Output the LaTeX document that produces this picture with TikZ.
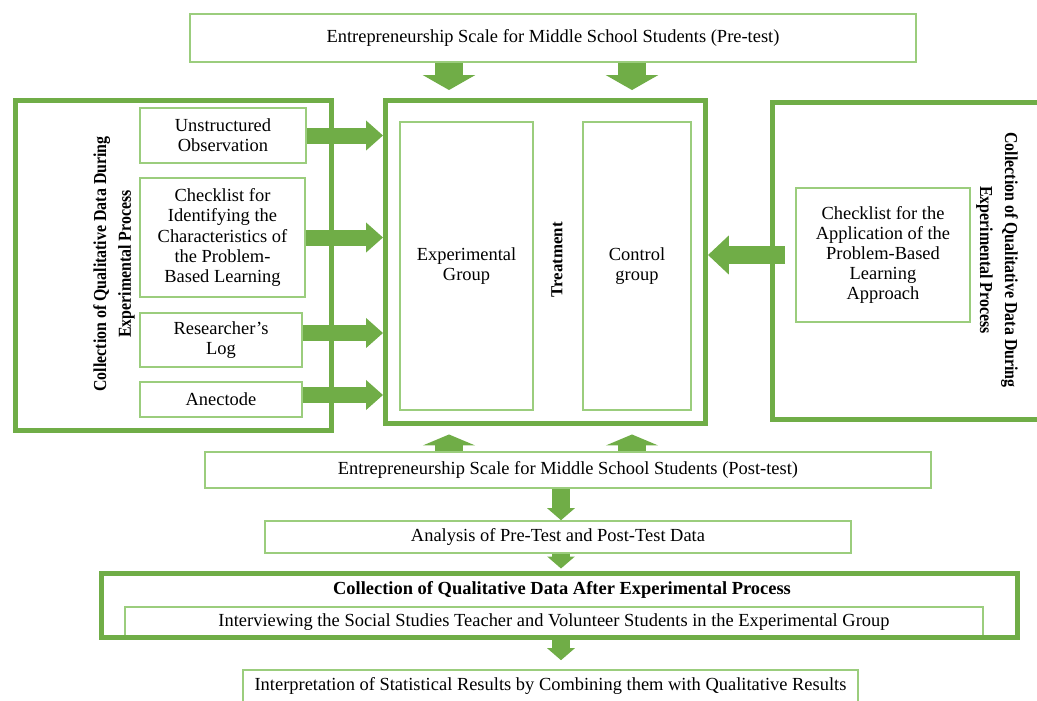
\documentclass[tikz,border=0pt]{standalone}
\usepackage{fontspec}
\setmainfont{Liberation Serif}
\newfontfamily\sidefont[FakeStretch=0.87]{Liberation Serif}
\usepackage{tikz}
\usetikzlibrary{arrows.meta}

\definecolor{framegreen}{RGB}{112,173,71}
\definecolor{boxgreen}{RGB}{155,205,125}

\begin{document}
\begin{tikzpicture}[x=0.02cm, y=-0.02cm,
	every node/.style={font=\fontsize{10.5}{11.4}\selectfont, align=center, inner sep=0pt},
	thinbox/.style={draw=boxgreen, line width=0.9pt, fill=white},
	thickbox/.style={draw=framegreen, line width=0.1cm},
	sidelabel/.style={font=\sidefont\bfseries\fontsize{10.4}{14.2}\selectfont},
	bigarrow/.style={draw=framegreen, line width=0.56cm, -{Triangle[length=0.3cm, width=1.04cm]}},
	uparrow/.style={draw=framegreen, line width=0.56cm, -{Triangle[length=0.22cm, width=1.04cm]}},
	sidearrow/.style={draw=framegreen, line width=0.32cm, -{Triangle[length=0.34cm, width=0.58cm]}},
	backarrow/.style={draw=framegreen, line width=0.36cm, -{Triangle[length=0.42cm, width=0.76cm]}},
	midarrow/.style={draw=framegreen, line width=0.36cm, -{Triangle[length=0.24cm, width=0.54cm]}}]
	\useasboundingbox (0,0) rectangle (1037,700);
	\clip (0,0) rectangle (1037,700);
	% pre-test and the treatment block
	\node[thinbox, minimum width=14.52cm, minimum height=0.96cm] (pre) at (553,38) {Entrepreneurship Scale for Middle School Students (Pre-test)};
	\node[thickbox, minimum width=6.4cm, minimum height=6.47cm] (treat) at (545.5,262.25) {};
	\node[thinbox, minimum width=2.66cm, minimum height=5.76cm] (expg) at (466.5,266) {Experimental\\Group};
	\node[thinbox, minimum width=2.16cm, minimum height=5.76cm] (ctrl) at (637,266) {Control\\group};
	\node[rotate=90, font=\bfseries\fontsize{9.6}{11.4}\selectfont] (treatlbl) at (557,260) {Treatment};
	% qualitative data during the process, left
	\node[thickbox, minimum width=6.34cm, minimum height=6.62cm] (leftframe) at (173.5,265.5) {};
	\node[sidelabel, rotate=90] (leftlbl) at (114,264) {Collection of Qualitative Data During\\Experimental Process};
	\node[thinbox, minimum width=3.32cm, minimum height=1.1cm] (obs) at (223,135.5) {Unstructured\\Observation};
	\node[thinbox, minimum width=3.3cm, minimum height=2.38cm] (chkid) at (222.5,237.5) {Checklist for\\Identifying the\\Characteristics of\\the Problem-\\Based Learning};
	\node[thinbox, minimum width=3.24cm, minimum height=1.08cm] (rlog) at (221,340) {Researcher’s\\Log};
	\node[thinbox, minimum width=3.24cm, minimum height=0.7cm] (anec) at (221,399.5) {Anectode};
	% qualitative data during the process, right
	\node[thickbox, minimum width=5.76cm, minimum height=6.36cm] (rightframe) at (916,261) {};
	\node[sidelabel, rotate=-90] (rightlbl) at (997,260) {Collection of Qualitative Data During\\Experimental Process};
	\node[thinbox, minimum width=3.48cm, minimum height=2.68cm] (chkapp) at (883,255) {Checklist for the\\Application of the\\Problem-Based\\Learning\\Approach};
	% after the treatment
	\node[thinbox, minimum width=14.52cm, minimum height=0.72cm] (post) at (568,470) {Entrepreneurship Scale for Middle School Students (Post-test)};
	\node[thinbox, minimum width=11.72cm, minimum height=0.64cm] (anal) at (558,537) {Analysis of Pre-Test and Post-Test Data};
	\node[thinbox, minimum width=17.16cm, minimum height=0.6cm] (interv) at (554,622) {Interviewing the Social Studies Teacher and Volunteer Students in the Experimental Group};
	\node[thickbox, minimum width=18.33cm, minimum height=1.28cm] (after) at (559.25,605) {};
	\node[font=\bfseries\fontsize{10.5}{11.4}\selectfont] (afterlbl) at (562,590) {Collection of Qualitative Data After Experimental Process};
	\node[thinbox, minimum width=12.3cm, minimum height=0.64cm] (interp) at (550.5,686) {Interpretation of Statistical Results by Combining them with Qualitative Results};

	\coordinate (t1) at (449,0);
	\coordinate (t2) at (632,0);
	\coordinate (m) at (561,0);
	\draw[bigarrow] (t1 |- pre.south) -- ([yshift=0.16cm]t1 |- treat.north);
	\draw[bigarrow] (t2 |- pre.south) -- ([yshift=0.16cm]t2 |- treat.north);
	\draw[uparrow] (t1 |- post.north) -- ([yshift=-0.16cm]t1 |- treat.south);
	\draw[uparrow] (t2 |- post.north) -- ([yshift=-0.16cm]t2 |- treat.south);
	\draw[sidearrow] (obs.east) -- (obs.east -| treat.west);
	\draw[sidearrow] (chkid.east) -- (chkid.east -| treat.west);
	\draw[sidearrow] ([yshift=0.14cm]rlog.east) -- ([yshift=0.14cm]rlog.east -| treat.west);
	\draw[sidearrow] ([yshift=0.09cm]anec.east) -- ([yshift=0.09cm]anec.east -| treat.west);
	\draw[backarrow] ([xshift=-0.2cm]chkapp.west) -- (chkapp.west -| treat.east);
	\draw[midarrow] (m |- post.south) -- (m |- anal.north);
	\draw[midarrow] (m |- anal.south) -- ([yshift=0.04cm]m |- after.north);
	\draw[midarrow] (m |- after.south) -- ([yshift=0.18cm]m |- interp.north);
\end{tikzpicture}
\end{document}
